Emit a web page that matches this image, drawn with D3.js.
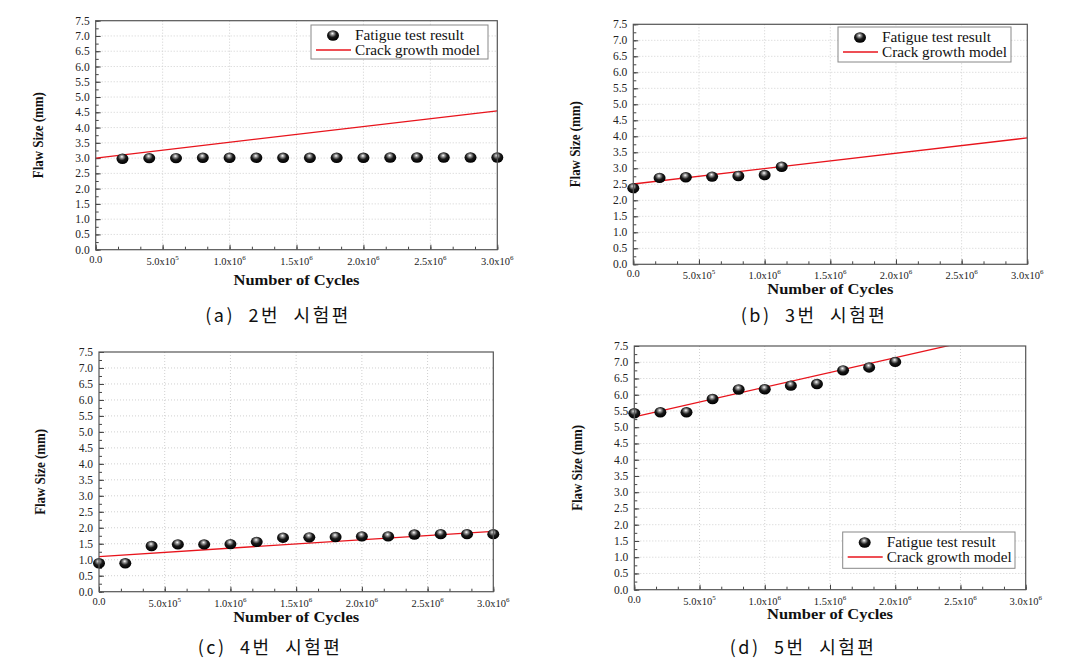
<!DOCTYPE html>
<html>
<head>
<meta charset="utf-8">
<script src="https://cdn.jsdelivr.net/npm/d3@7"></script>
<style>
html,body{margin:0;padding:0;background:#fff;}
svg{display:block;}
</style>
</head>
<body>
<svg id="chart" width="1084" height="669"></svg>
<script>
// ---------- data ----------
const xTickValues = [0, 5e5, 1e6, 1.5e6, 2e6, 2.5e6, 3e6];
const xTickMantissa = ["0.0", "5.0", "1.0", "1.5", "2.0", "2.5", "3.0"];
const xTickExponent = [null, "5", "6", "6", "6", "6", "6"];
const yTickValues = [0, 0.5, 1, 1.5, 2, 2.5, 3, 3.5, 4, 4.5, 5, 5.5, 6, 6.5, 7, 7.5];

const legendLabels = ["Fatigue test result", "Crack growth model"];
const xTitle = "Number of Cycles";
const yTitle = "Flaw Size (mm)";

const captions = ["(a) 2번 시험편", "(b) 3번 시험편", "(c) 4번 시험편", "(d) 5번 시험편"];

// (a) specimen 2
const cyclesA = [2e5, 4e5, 6e5, 8e5, 1e6, 1.2e6, 1.4e6, 1.6e6, 1.8e6, 2e6, 2.2e6, 2.4e6, 2.6e6, 2.8e6, 3e6];
const sizesA  = [2.98, 3.0, 3.0, 3.01, 3.01, 3.01, 3.01, 3.01, 3.01, 3.01, 3.02, 3.02, 3.02, 3.02, 3.02];
const modelCyclesA = [0, 3e6];
const modelSizesA  = [3.0, 4.55];

// (b) specimen 3
const cyclesB = [0, 2e5, 4e5, 6e5, 8e5, 1e6, 1.13e6];
const sizesB  = [2.38, 2.70, 2.72, 2.74, 2.76, 2.79, 3.05];
const modelCyclesB = [0, 3e6];
const modelSizesB  = [2.51, 3.95];

// (c) specimen 4
const cyclesC = [0, 2e5, 4e5, 6e5, 8e5, 1e6, 1.2e6, 1.4e6, 1.6e6, 1.8e6, 2e6, 2.2e6, 2.4e6, 2.6e6, 2.8e6, 3e6];
const sizesC  = [0.89, 0.89, 1.43, 1.48, 1.48, 1.49, 1.56, 1.69, 1.70, 1.71, 1.73, 1.73, 1.79, 1.80, 1.80, 1.80];
const modelCyclesC = [0, 3e6];
const modelSizesC  = [1.10, 1.89];

// (d) specimen 5
const cyclesD = [0, 2e5, 4e5, 6e5, 8e5, 1e6, 1.2e6, 1.4e6, 1.6e6, 1.8e6, 2e6];
const sizesD  = [5.43, 5.46, 5.46, 5.87, 6.16, 6.17, 6.28, 6.33, 6.75, 6.84, 7.01];
const modelCyclesD = [0, 3e6];
const modelSizesD  = [5.32, 8.05];

// ---------- layout ----------
const panels = [
  {id:"a", cyc:cyclesA, size:sizesA, mc:modelCyclesA, ms:modelSizesA, cap:captions[0],
   L:95.7, R:497.3, T:20.7, B:249.7, xtDy:35, ytDx:-58,
   leg:{x:311, y:25, w:177, h:34}, capX:278, capY:322},
  {id:"b", cyc:cyclesB, size:sizesB, mc:modelCyclesB, ms:modelSizesB, cap:captions[1],
   L:633.3, R:1027.3, T:24.3, B:264.3, xtDy:30, ytDx:-58,
   leg:{x:838, y:27, w:173, h:35}, capX:814, capY:322},
  {id:"c", cyc:cyclesC, size:sizesC, mc:modelCyclesC, ms:modelSizesC, cap:captions[2],
   L:99, R:493.3, T:352, B:591.7, xtDy:30, ytDx:-59,
   leg:null, capX:270, capY:654},
  {id:"d", cyc:cyclesD, size:sizesD, mc:modelCyclesD, ms:modelSizesD, cap:captions[3],
   L:634.3, R:1025.7, T:346, B:589.7, xtDy:29.5, ytDx:-57,
   leg:{x:842.7, y:532, w:172.3, h:36.3}, capX:803, capY:654}
];

const svg = d3.select("#chart");
const defs = svg.append("defs");
const grad = defs.append("radialGradient").attr("id","ball")
  .attr("cx","45%").attr("cy","38%").attr("r","60%").attr("fx","45%").attr("fy","30%");
grad.append("stop").attr("offset","0%").attr("stop-color","#ffffff");
grad.append("stop").attr("offset","22%").attr("stop-color","#9a9a9a");
grad.append("stop").attr("offset","55%").attr("stop-color","#1a1a1a");
grad.append("stop").attr("offset","100%").attr("stop-color","#000000");

const serif = "Liberation Serif, Times New Roman, serif";

function ball(g, x, y) {
  g.append("ellipse").attr("cx", x).attr("cy", y).attr("rx", 6).attr("ry", 5.2)
    .attr("fill", "url(#ball)");
}

panels.forEach(p => {
  const x = d3.scaleLinear().domain([0, 3e6]).range([p.L, p.R]);
  const y = d3.scaleLinear().domain([0, 7.5]).range([p.B, p.T]);
  const g = svg.append("g");

  // grid
  g.append("g").selectAll("line").data(yTickValues.filter(v => v > 0 && v < 7.5)).join("line")
    .attr("x1", p.L).attr("x2", p.R).attr("y1", d => y(d)).attr("y2", d => y(d))
    .attr("stroke", "#d0d0d0").attr("stroke-width", 1).attr("stroke-dasharray", "1,2");
  g.append("g").selectAll("line").data(xTickValues.filter(v => v > 0 && v < 3e6)).join("line")
    .attr("y1", p.T).attr("y2", p.B).attr("x1", d => x(d)).attr("x2", d => x(d))
    .attr("stroke", "#d0d0d0").attr("stroke-width", 1).attr("stroke-dasharray", "1,2");

  // axes (inward ticks)
  const yMinor = d3.range(0, 7.5001, 0.25);
  const xMinor = d3.range(0, 3e6 + 1, 5e5 / 3);
  g.append("g").attr("transform", `translate(${p.L},0)`)
    .call(d3.axisRight(y).tickValues(yMinor).tickSize(3).tickFormat(""))
    .call(a => a.select(".domain").remove())
    .call(a => a.selectAll("line").attr("stroke", "#444"));
  g.append("g").attr("transform", `translate(${p.L},0)`)
    .call(d3.axisRight(y).tickValues(yTickValues).tickSize(5).tickFormat(""))
    .call(a => a.select(".domain").remove())
    .call(a => a.selectAll("line").attr("stroke", "#444"));
  g.append("g").attr("transform", `translate(0,${p.B})`)
    .call(d3.axisTop(x).tickValues(xMinor).tickSize(3).tickFormat(""))
    .call(a => a.select(".domain").remove())
    .call(a => a.selectAll("line").attr("stroke", "#444"));
  g.append("g").attr("transform", `translate(0,${p.B})`)
    .call(d3.axisTop(x).tickValues(xTickValues).tickSize(5).tickFormat(""))
    .call(a => a.select(".domain").remove())
    .call(a => a.selectAll("line").attr("stroke", "#444"));

  // y tick labels
  g.append("g").selectAll("text").data(yTickValues).join("text")
    .attr("x", p.L - 6).attr("y", d => y(d) + 4)
    .attr("text-anchor", "end").style("font-family", serif).attr("font-size", 11.5)
    .attr("fill", "#222").text(d => d.toFixed(1));

  // x tick labels
  const xl = g.append("g").selectAll("text").data(xTickValues).join("text")
    .attr("x", d => x(d)).attr("y", (d, i) => p.B + (i === 0 ? 13 : 15))
    .attr("text-anchor", "middle").style("font-family", serif).attr("font-size", 10.5)
    .attr("fill", "#222");
  xl.each(function(d, i) {
    const t = d3.select(this);
    if (xTickExponent[i] === null) { t.text(xTickMantissa[i]); return; }
    t.append("tspan").text(xTickMantissa[i] + "x10");
    t.append("tspan").attr("dy", -5).attr("font-size", 7).text(xTickExponent[i]);
  });

  // titles
  g.append("text").attr("x", (p.L + p.R) / 2).attr("y", p.B + p.xtDy)
    .attr("text-anchor", "middle").style("font-family", serif).attr("font-weight", "bold")
    .attr("font-size", 14).attr("textLength", 126).attr("lengthAdjust", "spacingAndGlyphs")
    .attr("fill", "#111").text(xTitle);
  g.append("text")
    .attr("transform", `translate(${p.L + p.ytDx + 5},${(p.T + p.B) / 2}) rotate(-90)`)
    .attr("text-anchor", "middle").style("font-family", serif).attr("font-weight", "bold")
    .attr("font-size", 14).attr("textLength", 86).attr("lengthAdjust", "spacingAndGlyphs")
    .attr("fill", "#111").text(yTitle);

  // clip
  defs.append("clipPath").attr("id", "clip" + p.id).append("rect")
    .attr("x", p.L).attr("y", p.T).attr("width", p.R - p.L).attr("height", p.B - p.T);

  // model line
  const line = d3.line().x(d => x(d[0])).y(d => y(d[1]));
  g.append("path").datum(d3.zip(p.mc, p.ms)).attr("d", line)
    .attr("clip-path", `url(#clip${p.id})`)
    .attr("fill", "none").attr("stroke", "#e8141c").attr("stroke-width", 1.3);

  // points
  const pts = g.append("g");
  p.cyc.forEach((c, i) => ball(pts, x(c), y(p.size[i])));

  // frame
  g.append("rect").attr("x", p.L).attr("y", p.T).attr("width", p.R - p.L).attr("height", p.B - p.T)
    .attr("fill", "none").attr("stroke", "#555").attr("stroke-width", 1.2);

  // legend
  if (p.leg) {
    const lg = g.append("g");
    lg.append("rect").attr("x", p.leg.x).attr("y", p.leg.y).attr("width", p.leg.w).attr("height", p.leg.h)
      .attr("fill", "#fff").attr("stroke", "#888").attr("stroke-width", 1);
    const r1 = p.leg.y + 10.5, r2 = p.leg.y + 25;
    ball(lg, p.leg.x + 22, r1);
    lg.append("line").attr("x1", p.leg.x + 5).attr("x2", p.leg.x + 40).attr("y1", r2).attr("y2", r2)
      .attr("stroke", "#e8141c").attr("stroke-width", 1.3);
    lg.append("text").attr("x", p.leg.x + 44).attr("y", r1 + 4.5)
      .style("font-family", serif).attr("font-size", 14).attr("fill", "#111")
      .attr("textLength", 109).attr("lengthAdjust", "spacingAndGlyphs").text(legendLabels[0]);
    lg.append("text").attr("x", p.leg.x + 44).attr("y", r2 + 4.5)
      .style("font-family", serif).attr("font-size", 14).attr("fill", "#111")
      .attr("textLength", 125).attr("lengthAdjust", "spacingAndGlyphs").text(legendLabels[1]);
  }

  // caption
  svg.append("text").attr("x", p.capX).attr("y", p.capY).attr("text-anchor", "middle")
    .style("font-family", "Noto Sans CJK KR, Noto Sans, sans-serif").attr("font-size", 18)
    .style("letter-spacing", "2.5px").style("word-spacing", "7px")
    .attr("fill", "#111").text(p.cap);
});
</script>
</body>
</html>
